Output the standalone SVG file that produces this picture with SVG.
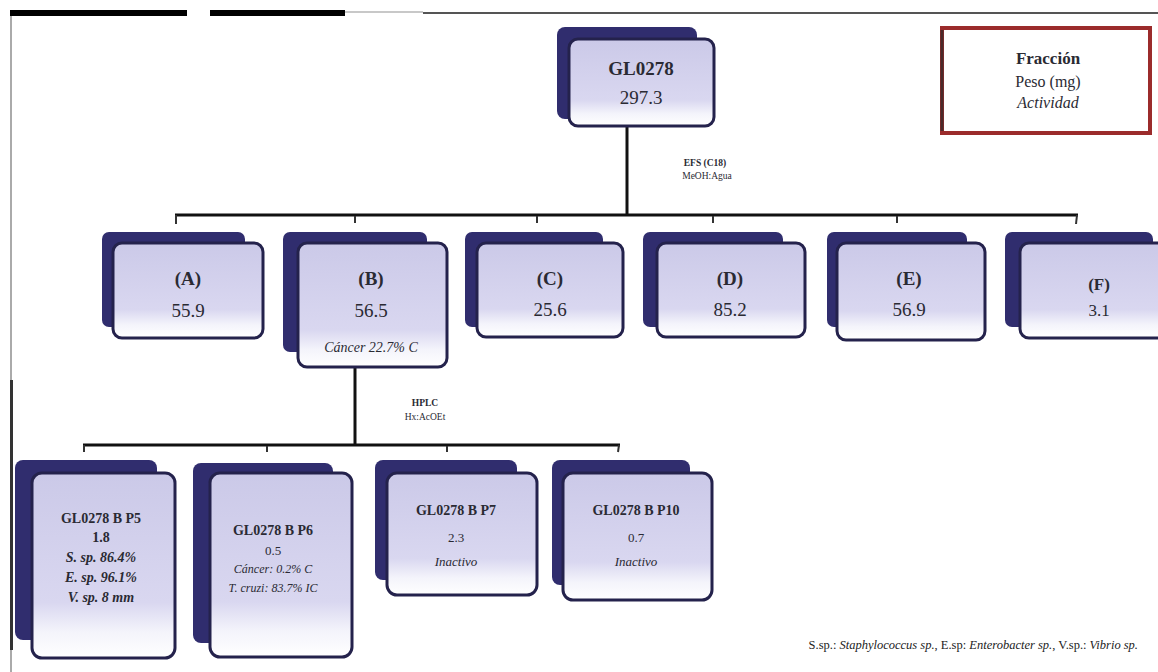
<svg xmlns="http://www.w3.org/2000/svg" width="1158" height="672" viewBox="0 0 1158 672">
<defs>
<linearGradient id="fg" x1="0" y1="0" x2="0" y2="1">
<stop offset="0" stop-color="#cbc9e8"/>
<stop offset="0.7" stop-color="#d9d7f0"/>
<stop offset="0.86" stop-color="#f4f4fb"/>
<stop offset="1" stop-color="#ffffff"/>
</linearGradient>
<style>
.sh{fill:#302d6e;}
.fr{fill:url(#fg);stroke:#24224c;stroke-width:3;}
.t{font-family:"Liberation Serif","Times New Roman",serif;fill:#2a2a33;text-anchor:middle;}
.b{font-weight:bold;}
.i{font-style:italic;}
.ln{stroke:#111;stroke-width:3;fill:none;}
.tk{stroke:#333;stroke-width:2;}
</style>
</defs>
<rect width="1158" height="672" fill="#ffffff"/>
<!-- page frame -->
<rect x="10" y="10" width="177" height="6" fill="#000"/>
<rect x="210" y="10" width="135" height="6" fill="#000"/>
<rect x="345" y="11" width="78" height="2" fill="#c8c8c8"/>
<rect x="423" y="12" width="735" height="2" fill="#555"/>
<rect x="10" y="16" width="2" height="364" fill="#aaa"/>
<rect x="10" y="380" width="3" height="270" fill="#333"/>
<rect x="10" y="650" width="2" height="22" fill="#aaa"/>

<g id="connectors">
<line class="ln" x1="627" y1="126" x2="627" y2="215"/>
<line class="ln" x1="175" y1="215" x2="1078" y2="215"/>
<line class="tk" x1="176" y1="215" x2="176" y2="224"/>
<line class="tk" x1="355" y1="216" x2="355" y2="223"/>
<line class="tk" x1="537" y1="216" x2="537" y2="223"/>
<line class="tk" x1="713" y1="216" x2="713" y2="223"/>
<line class="tk" x1="897" y1="216" x2="897" y2="223"/>
<line class="tk" x1="1077" y1="215" x2="1076" y2="224"/>
<text class="t b" x="705" y="166" font-size="9.5">EFS (C18)</text>
<text class="t" x="707" y="179" font-size="9.5">MeOH:Agua</text>
<line class="ln" x1="355" y1="367" x2="355" y2="445"/>
<line class="ln" x1="83" y1="445" x2="620" y2="445"/>
<line class="tk" x1="84" y1="445" x2="84" y2="452"/>
<line class="tk" x1="267" y1="446" x2="267" y2="452"/>
<line class="tk" x1="447" y1="446" x2="447" y2="452"/>
<line class="tk" x1="619" y1="445" x2="618" y2="452"/>
<text class="t b" x="425" y="406" font-size="9.5">HPLC</text>
<text class="t" x="425" y="420" font-size="9.5">Hx:AcOEt</text>
</g>

<g id="root">
<rect class="sh" x="557" y="27" width="140" height="92" rx="8"/>
<rect class="fr" x="569" y="39" width="145" height="87" rx="9"/>
<text class="t b" x="641" y="75" font-size="19">GL0278</text>
<text class="t" x="641" y="104" font-size="19">297.3</text>
</g>

<g id="legend">
<rect x="942" y="28" width="208" height="105" fill="#fff" stroke="#9b2b2b" stroke-width="4"/>
<line x1="942" y1="30" x2="942" y2="131" stroke="#4a2a2a" stroke-width="3"/>
<text class="t b" x="1048" y="64" font-size="17">Fracción</text>
<text class="t" x="1048" y="87" font-size="16">Peso (mg)</text>
<text class="t i" x="1048" y="108" font-size="16">Actividad</text>
</g>

<g id="nodeA">
<rect class="sh" x="102" y="232" width="143" height="95" rx="7"/>
<rect class="fr" x="113" y="243" width="150" height="95" rx="9"/>
<text class="t b" x="188" y="285" font-size="19">(A)</text>
<text class="t" x="188" y="317" font-size="19">55.9</text>
</g>
<g id="nodeB">
<rect class="sh" x="283" y="232" width="144" height="120" rx="7"/>
<rect class="fr" x="298" y="243" width="149" height="124" rx="9"/>
<text class="t b" x="371" y="285" font-size="19">(B)</text>
<text class="t" x="371" y="317" font-size="19">56.5</text>
<text class="t i" x="371" y="352" font-size="14">Cáncer 22.7% C</text>
</g>
<g id="nodeC">
<rect class="sh" x="465" y="232" width="138" height="95" rx="7"/>
<rect class="fr" x="477" y="243" width="146" height="94" rx="9"/>
<text class="t b" x="550" y="285" font-size="19">(C)</text>
<text class="t" x="550" y="316" font-size="19">25.6</text>
</g>
<g id="nodeD">
<rect class="sh" x="643" y="232" width="140" height="95" rx="7"/>
<rect class="fr" x="657" y="243" width="148" height="94" rx="9"/>
<text class="t b" x="730" y="285" font-size="19">(D)</text>
<text class="t" x="730" y="316" font-size="19">85.2</text>
</g>
<g id="nodeE">
<rect class="sh" x="827" y="232" width="140" height="95" rx="7"/>
<rect class="fr" x="837" y="243" width="148" height="97" rx="9"/>
<text class="t b" x="909" y="285" font-size="19">(E)</text>
<text class="t" x="909" y="316" font-size="19">56.9</text>
</g>
<g id="nodeF">
<rect class="sh" x="1005" y="232" width="148" height="95" rx="7"/>
<rect class="fr" x="1020" y="243" width="150" height="95" rx="9"/>
<text class="t b" x="1099" y="290" font-size="17">(F)</text>
<text class="t" x="1099" y="316" font-size="17">3.1</text>
</g>

<g id="nodeP5">
<rect class="sh" x="15" y="460" width="142" height="180" rx="8"/>
<rect class="fr" x="32" y="473" width="143" height="185" rx="10"/>
<text class="t b" x="101" y="523" font-size="14">GL0278 B P5</text>
<text class="t b" x="101" y="542" font-size="14">1.8</text>
<text class="t b i" x="101" y="562" font-size="14">S. sp. 86.4%</text>
<text class="t b i" x="101" y="582" font-size="14">E. sp. 96.1%</text>
<text class="t b i" x="101" y="602" font-size="14">V. sp. 8 mm</text>
</g>
<g id="nodeP6">
<rect class="sh" x="193" y="463" width="140" height="180" rx="8"/>
<rect class="fr" x="210" y="473" width="142" height="184" rx="10"/>
<text class="t b" x="273" y="535" font-size="14">GL0278 B P6</text>
<text class="t" x="273" y="555" font-size="13">0.5</text>
<text class="t i" x="273" y="573" font-size="12">Cáncer: 0.2% C</text>
<text class="t i" x="273" y="592" font-size="12">T. cruzi: 83.7% IC</text>
</g>
<g id="nodeP7">
<rect class="sh" x="375" y="460" width="142" height="120" rx="8"/>
<rect class="fr" x="387" y="473" width="150" height="122" rx="10"/>
<text class="t b" x="456" y="515" font-size="14">GL0278 B P7</text>
<text class="t" x="456" y="542" font-size="13">2.3</text>
<text class="t i" x="456" y="566" font-size="13">Inactivo</text>
</g>
<g id="nodeP10">
<rect class="sh" x="552" y="460" width="138" height="125" rx="8"/>
<rect class="fr" x="563" y="473" width="149" height="127" rx="10"/>
<text class="t b" x="636" y="515" font-size="14">GL0278 B P10</text>
<text class="t" x="636" y="542" font-size="13">0.7</text>
<text class="t i" x="636" y="566" font-size="13">Inactivo</text>
</g>

<text x="1138" y="649" text-anchor="end" font-family="'Liberation Serif','Times New Roman',serif" font-size="12.5" fill="#222">S.sp.: <tspan font-style="italic">Staphylococcus sp.</tspan>, E.sp: <tspan font-style="italic">Enterobacter sp.</tspan>, V.sp.: <tspan font-style="italic">Vibrio sp.</tspan></text>
</svg>
